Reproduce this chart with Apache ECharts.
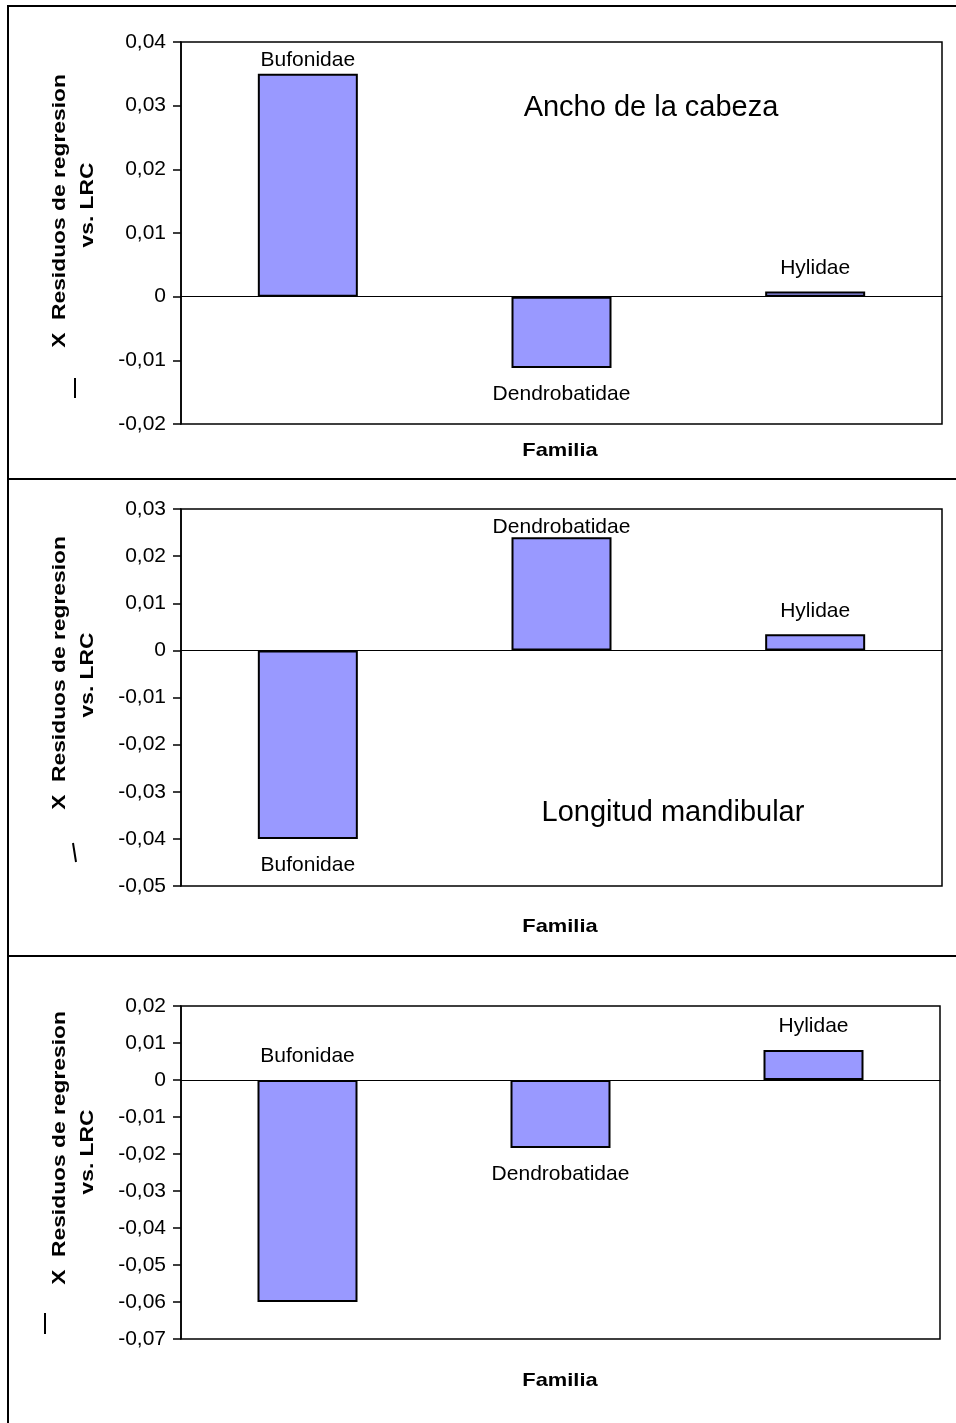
<!DOCTYPE html>
<html>
<head>
<meta charset="utf-8">
<script src="https://cdn.jsdelivr.net/npm/echarts@6/dist/echarts.min.js"></script>
<style>
html,body{margin:0;padding:0;background:#fff;}
#chart{width:956px;height:1423px;}
</style>
</head>
<body>
<div id="chart"></div>
<script>
// ---- data ----
const categories = ['Bufonidae', 'Dendrobatidae', 'Hylidae'];
const anchoCabeza = [0.0350, -0.0112, 0.0008];
const longitudMandibular = [-0.0400, 0.0240, 0.0034];
const panel3Values = [-0.0600, -0.0184, 0.0081];
const yMins = [-0.02, -0.05, -0.07];
const yMaxs = [0.04, 0.03, 0.02];
const yInterval = 0.01;
const panelTitles = ['Ancho de la cabeza', 'Longitud mandibular', ''];
const xAxisName = 'Familia';
const yNameLine1 = 'X  Residuos de regresion';
const yNameLine2 = 'vs. LRC';

// ---- layout ----
const FONT = '"Liberation Sans", Arial, Helvetica, sans-serif';
const grids = [
  {left: 181, right: 14, top: 42, height: 382},
  {left: 181, right: 14, top: 509, height: 377},
  {left: 181, right: 16, top: 1006, height: 333}
];
const seriesData = [anchoCabeza, longitudMandibular, panel3Values];
// label placement per panel/category (screen top/bottom and distance)
const labelCfg = [
  [['top', 3], ['bottom', 16], ['top', 13]],
  [['bottom', 16], ['top', 0], ['top', 13]],
  [['top', 13], ['bottom', 16], ['top', 13]]
];

function fmt(v) {
  if (Math.abs(v) < 1e-9) return '0';
  return v.toFixed(2).replace('.', ',');
}

const option = {
  backgroundColor: '#fff',
  animation: false,
  grid: grids.map(g => Object.assign({show: true, borderColor: '#000', borderWidth: 1.5, backgroundColor: '#fff'}, g)),
  xAxis: grids.map((g, i) => ({
    type: 'category', gridIndex: i, data: categories,
    axisLine: {onZero: true, lineStyle: {color: '#000', width: 1.2}},
    axisTick: {show: false}, axisLabel: {show: false}, splitLine: {show: false}
  })),
  yAxis: grids.map((g, i) => ({
    type: 'value', gridIndex: i, min: yMins[i], max: yMaxs[i], interval: yInterval,
    axisLine: {show: true, lineStyle: {color: '#000', width: 1.5}},
    axisTick: {show: true, inside: false, length: 8, lineStyle: {color: '#000', width: 1.5}},
    axisLabel: {margin: 15, color: '#000', fontSize: 21, fontFamily: FONT, formatter: fmt},
    splitLine: {show: false}
  })),
  series: seriesData.map((arr, i) => ({
    type: 'bar', xAxisIndex: i, yAxisIndex: i, barWidth: 100,
    itemStyle: {color: '#9999FF', borderColor: '#000', borderWidth: 2},
    data: arr.map((v, j) => ({
      value: v,
      label: {
        show: true, position: labelCfg[i][j][0], distance: labelCfg[i][j][1],
        formatter: categories[j], color: '#000', fontSize: 21, fontFamily: FONT
      }
    }))
  })),
  graphic: []
};

// panel frames
const panelTops = [6, 479, 956];
const panelBottoms = [479, 956, 1430];
panelTops.forEach((t, i) => {
  option.graphic.push({type: 'rect', silent: true, z: -10,
    shape: {x: 8, y: t, width: 960, height: panelBottoms[i] - t},
    style: {fill: null, stroke: '#000', lineWidth: 2}});
});

// titles
const titlePos = [[651, 108], [673, 813]];
titlePos.forEach((p, i) => {
  option.graphic.push({type: 'text', x: p[0], y: p[1], z: 100,
    style: {text: panelTitles[i], fill: '#000', font: '29px ' + FONT, textAlign: 'center', textVerticalAlign: 'middle'}});
});

// x axis names
[451, 927, 1381].forEach(y => {
  option.graphic.push({type: 'text', x: 560, y: y, scaleX: 1.15, z: 100,
    style: {text: xAxisName, fill: '#000', font: 'bold 19px ' + FONT, textAlign: 'center', textVerticalAlign: 'middle'}});
});

// y axis names (rotated)
const yName1Pos = [[60, 211], [60, 673], [60, 1148]];
const yName2Pos = [[88, 205], [88, 675], [88, 1152]];
yName1Pos.forEach((p, i) => {
  option.graphic.push({type: 'text', x: p[0], y: p[1], rotation: Math.PI / 2, scaleX: 1.2, z: 100,
    style: {text: yNameLine1, fill: '#000', font: 'bold 19px ' + FONT, textAlign: 'center', textVerticalAlign: 'middle'}});
  option.graphic.push({type: 'text', x: yName2Pos[i][0], y: yName2Pos[i][1], rotation: Math.PI / 2, scaleX: 1.2, z: 100,
    style: {text: yNameLine2, fill: '#000', font: 'bold 19px ' + FONT, textAlign: 'center', textVerticalAlign: 'middle'}});
});

// detached macron strokes of the X-bar symbol
const macrons = [[75, 378, 75, 398], [73, 843, 76, 862], [45, 1313, 45, 1334]];
macrons.forEach(m => {
  option.graphic.push({type: 'line', silent: true, z: 100,
    shape: {x1: m[0], y1: m[1], x2: m[2], y2: m[3]},
    style: {stroke: '#000', lineWidth: 2}});
});

const chart = echarts.init(document.getElementById('chart'), null, {renderer: 'canvas'});
chart.setOption(option);
</script>
</body>
</html>
